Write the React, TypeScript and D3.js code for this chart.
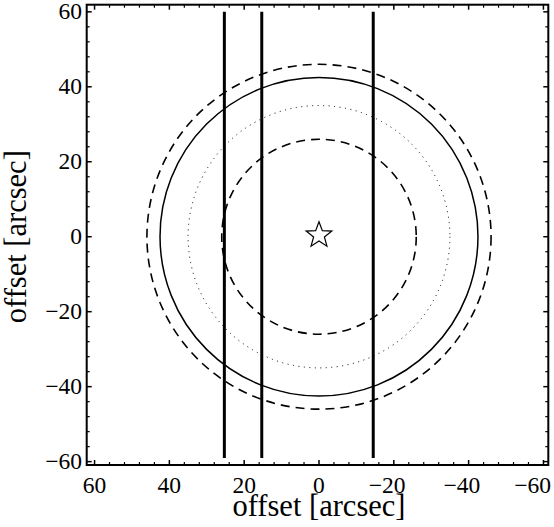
import React from "react";
import * as d3 from "d3";

const majorTicks = [60, 40, 20, 0, -20, -40, -60];
const minorStep = 4;
const circleRadii = { outerDashed: 46, solid: 42.5, dotted: 35, innerDashed: 26 };
const slitX = [25.3, 15.3, -14.5];
const slitY = [60, -59];
const star = { x: 0, y: 0 };

const W = 554, H = 527;
const frame = { left: 86.7, right: 548.3, top: 4.7, bottom: 465 };

function fmt(v: number) {
  return v < 0 ? "\u2212" + Math.abs(v) : String(v);
}

export default function App() {
  const x = d3.scaleLinear().domain([62.1, -61.3]).range([frame.left, frame.right]);
  const y = d3.scaleLinear().domain([-60.9, 61.9]).range([frame.bottom, frame.top]);
  const minor = d3.range(-60, 60.1, minorStep).filter((v) => v % 20 !== 0);
  const pxPerUnitX = Math.abs(x(1) - x(0));
  const pxPerUnitY = Math.abs(y(1) - y(0));
  const cx = x(0), cy = y(0);
  const ell = (r: number) => ({ rx: r * pxPerUnitX, ry: r * pxPerUnitY });

  const R = 13.5, r = R * 0.42;
  const starPts: [number, number][] = [];
  for (let i = 0; i < 10; i++) {
    const a = -Math.PI / 2 + (i * Math.PI) / 5;
    const rr = i % 2 === 0 ? R : r;
    starPts.push([x(star.x) + rr * Math.cos(a), y(star.y) - 1.5 + rr * Math.sin(a)]);
  }
  const starPath = d3.line()(starPts) + "Z";

  const font = "'Liberation Serif', 'Times New Roman', serif";
  const tickFs = 23.5;
  const tickMaj = 5, tickMin = 3;

  return (
    <svg width={W} height={H} style={{ position: "absolute", left: 0, top: 0, background: "#fff" }}>
      <rect width={W} height={H} fill="#fff" />
      {/* circles */}
      <ellipse cx={cx} cy={cy} {...ell(circleRadii.outerDashed)} fill="none" stroke="#000" strokeWidth={1.6} strokeDasharray="9 6" />
      <ellipse cx={cx} cy={cy} {...ell(circleRadii.solid)} fill="none" stroke="#000" strokeWidth={1.5} />
      <ellipse cx={cx} cy={cy} {...ell(circleRadii.dotted)} fill="none" stroke="#000" strokeWidth={1} strokeDasharray="1 4.5" />
      <ellipse cx={cx} cy={cy} {...ell(circleRadii.innerDashed)} fill="none" stroke="#000" strokeWidth={1.6} strokeDasharray="9 6" />
      {/* slits */}
      {slitX.map((v, i) => (
        <line key={i} x1={x(v)} x2={x(v)} y1={y(slitY[0])} y2={y(slitY[1])} stroke="#000" strokeWidth={3} />
      ))}
      {/* star */}
      <path d={starPath} fill="none" stroke="#000" strokeWidth={1.2} strokeLinejoin="miter" />
      {/* frame */}
      <rect x={frame.left} y={frame.top} width={frame.right - frame.left} height={frame.bottom - frame.top} fill="none" stroke="#000" strokeWidth={2} />
      {/* ticks */}
      {majorTicks.map((v) => (
        <g key={"mx" + v}>
          <line x1={x(v)} x2={x(v)} y1={frame.bottom} y2={frame.bottom - tickMaj} stroke="#000" strokeWidth={1.5} />
          <line x1={x(v)} x2={x(v)} y1={frame.top} y2={frame.top + tickMaj} stroke="#000" strokeWidth={1.5} />
          <line y1={y(v)} y2={y(v)} x1={frame.left} x2={frame.left + tickMaj} stroke="#000" strokeWidth={1.5} />
          <line y1={y(v)} y2={y(v)} x1={frame.right} x2={frame.right - tickMaj} stroke="#000" strokeWidth={1.5} />
        </g>
      ))}
      {minor.map((v) => (
        <g key={"mn" + v}>
          <line x1={x(v)} x2={x(v)} y1={frame.bottom} y2={frame.bottom - tickMin} stroke="#000" strokeWidth={1.2} />
          <line x1={x(v)} x2={x(v)} y1={frame.top} y2={frame.top + tickMin} stroke="#000" strokeWidth={1.2} />
          <line y1={y(v)} y2={y(v)} x1={frame.left} x2={frame.left + tickMin} stroke="#000" strokeWidth={1.2} />
          <line y1={y(v)} y2={y(v)} x1={frame.right} x2={frame.right - tickMin} stroke="#000" strokeWidth={1.2} />
        </g>
      ))}
      {/* tick labels */}
      {majorTicks.map((v) => {
        if (v < 0) {
          const digitsHalf = (String(Math.abs(v)).length * 0.5 * tickFs) / 2;
          const xe = Math.min(x(v) + digitsHalf, W - 3);
          return (
            <text key={"lx" + v} x={xe} y={493} textAnchor="end" fontFamily={font} fontSize={tickFs} fill="#000">
              {fmt(v)}
            </text>
          );
        }
        return (
          <text key={"lx" + v} x={x(v)} y={493} textAnchor="middle" fontFamily={font} fontSize={tickFs} fill="#000">
            {fmt(v)}
          </text>
        );
      })}
      {majorTicks.map((v) => (
        <text key={"ly" + v} x={82} y={y(v) + 7.5} textAnchor="end" fontFamily={font} fontSize={tickFs} fill="#000">
          {fmt(v)}
        </text>
      ))}
      {/* axis titles */}
      <text x={cx} y={515.5} textAnchor="middle" fontFamily={font} fontSize={30.5} fill="#000">
        offset [arcsec]
      </text>
      <text transform={`translate(25.5,${cy}) rotate(-90)`} textAnchor="middle" fontFamily={font} fontSize={30.5} fill="#000">
        offset [arcsec]
      </text>
    </svg>
  );
}
